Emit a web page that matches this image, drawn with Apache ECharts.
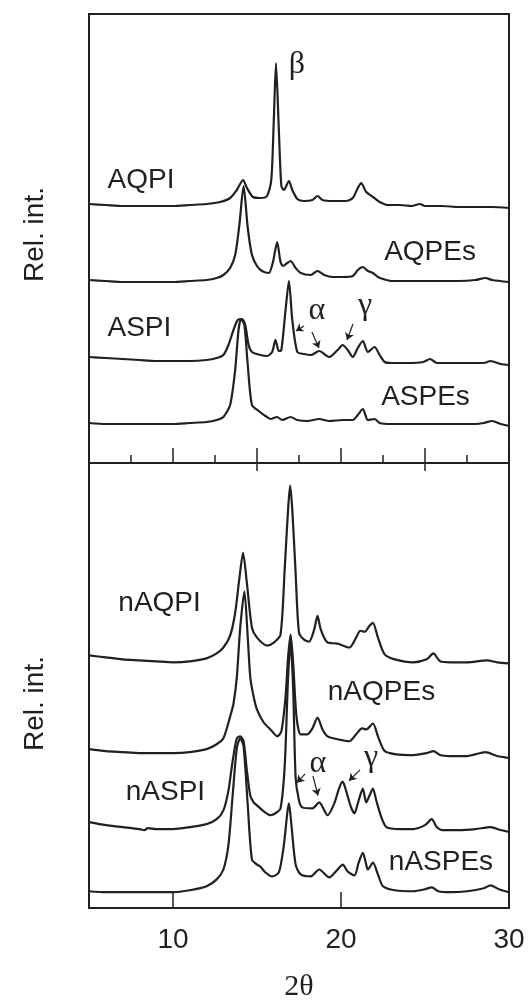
<!DOCTYPE html>
<html>
<head>
    <meta charset="utf-8">
    <title>XRD</title>
    <script src="https://cdn.jsdelivr.net/npm/echarts@6/dist/echarts.min.js"></script>
    <style>
        html, body { margin: 0; padding: 0; background: #fff; }
        #chart { width: 529px; height: 1003px; }
    </style>
</head>
<body>
<div id="chart"></div>
<script>
    // 2θ range and tick values
    var xMin = 5, xMax = 30;
    var bottomLabels = [10, 20, 30];
    var bottomMajor = [10, 20];
    var bottomMinor = [15, 25];

    // top panel curves: [2θ, intensity]
    var AQPI = [[5,259],[6,258],[7,257],[8,257],[9,257],[10,257],[11,258],[12,259],[12.8,261],[13.4,265],[13.8,273],[14.17,283],[14.4,275],[14.76,266],[15.2,265],[15.6,267],[15.85,283],[16.0,343],[16.13,400],[16.3,333],[16.45,277],[16.6,273],[16.9,282],[17.1,273],[17.4,264],[17.8,262],[18.3,263],[18.6,267],[18.9,263],[19.5,262],[20.3,262],[20.7,265],[21.0,275],[21.2,280],[21.5,271],[21.9,266],[22.3,261],[22.8,258],[23.5,258],[24.2,257],[24.7,259],[25,257],[26,257],[27,256],[28,256],[29,256],[30,255]];
    var AQPEs = [[5,183],[6,182],[7,181],[8,181],[9,181],[10,181],[11,182],[12,183],[12.6,185],[13.0,188],[13.4,195],[13.7,208],[13.95,238],[14.2,277],[14.45,235],[14.7,208],[15.0,197],[15.3,192],[15.7,190],[15.95,201],[16.2,221],[16.4,201],[16.55,197],[16.8,200],[17.0,202],[17.3,195],[17.6,190],[18.2,188],[18.6,192],[19.0,188],[19.5,186],[20.1,186],[20.7,187],[21.0,193],[21.3,196],[21.6,192],[21.9,190],[22.2,186],[22.5,184],[23,182],[24,182],[25,182],[26,182],[27,182],[28,183],[28.6,185],[29,183],[30,181]];
    var ASPI = [[5,106],[6,105],[7,104],[8,103],[9,102],[10,102],[11,102],[12,103],[12.6,105],[13.0,108],[13.3,118],[13.6,133],[13.85,143],[14.1,144],[14.3,138],[14.5,118],[14.7,111],[15.2,108],[15.6,107],[15.9,111],[16.1,123],[16.3,112],[16.45,113],[16.7,153],[16.9,182],[17.1,143],[17.4,111],[17.8,109],[18.2,108],[18.7,112],[19.3,106],[19.8,113],[20.1,118],[20.4,113],[20.7,106],[21.0,115],[21.3,122],[21.6,111],[22.0,116],[22.3,108],[22.6,101],[23,100],[24,100],[24.9,101],[25.3,104],[25.7,100],[26.5,100],[27.5,100],[28.5,100],[28.9,102],[29.5,99],[30,98]];
    var ASPEs = [[5,40],[6,39],[7,39],[8,39],[9,39],[10,39],[11,40],[12,41],[12.6,43],[13.0,46],[13.4,58],[13.7,93],[13.9,133],[14.05,144],[14.25,138],[14.45,98],[14.7,58],[15.1,52],[15.5,47],[15.8,44],[16.2,46],[16.5,43],[17.0,46],[17.4,43],[18,42],[18.7,44],[19.3,42],[20.1,43],[20.7,43],[21.0,48],[21.3,54],[21.6,43],[22.0,44],[22.3,40],[23,39],[24,39],[25,39],[26,39],[27,39],[28,39],[28.5,40],[29,42],[29.5,39],[30,37]];

    // bottom panel curves
    var nAQPI = [[5,256],[6,254],[7,252],[8,251],[9,250],[10,249],[11,250],[12,253],[12.6,258],[13.0,264],[13.4,276],[13.7,299],[13.95,334],[14.17,360],[14.4,329],[14.7,284],[15.0,274],[15.6,266],[16.0,269],[16.4,277],[16.65,344],[16.85,404],[16.97,428],[17.1,404],[17.3,339],[17.5,279],[17.8,272],[18.1,270],[18.4,282],[18.6,296],[18.8,282],[19.2,269],[19.8,268],[20.5,264],[20.9,274],[21.15,281],[21.4,280],[21.7,286],[21.9,289],[22.2,274],[22.6,257],[23.2,252],[24.3,249],[25.1,252],[25.5,258],[25.9,250],[26.5,249],[27.5,249],[28.7,251],[29.3,249],[30,248]];
    var nAQPEs = [[5,161],[6,159],[7,158],[8,157],[9,157],[10,157],[11,158],[12,161],[12.6,166],[13.0,172],[13.4,194],[13.6,207],[13.8,234],[14.0,284],[14.25,321],[14.45,274],[14.6,234],[14.8,214],[15.0,201],[15.4,188],[15.8,181],[16.2,174],[16.45,179],[16.7,214],[16.85,254],[17.0,277],[17.15,249],[17.35,194],[17.6,176],[18.0,176],[18.3,182],[18.6,193],[18.9,181],[19.2,174],[19.8,171],[20.5,169],[20.9,176],[21.25,182],[21.5,181],[21.9,187],[22.2,174],[22.6,159],[23.2,156],[24.3,155],[25.1,157],[25.5,159],[25.9,155],[26.5,154],[27.5,154],[28.6,158],[29.3,154],[30,152]];
    var nASPI = [[5,87],[6,84],[7,82],[8,80],[8.3,79],[8.5,81],[9,80],[10,80],[11,82],[12,85],[12.6,90],[13.0,99],[13.3,119],[13.55,149],[13.8,172],[14.0,174],[14.2,169],[14.4,139],[14.6,114],[14.8,107],[15.0,104],[15.4,98],[15.8,94],[16.1,96],[16.4,101],[16.65,144],[16.85,234],[17.0,269],[17.15,224],[17.3,132],[17.5,109],[17.7,102],[18.3,101],[18.7,107],[19.2,94],[19.6,106],[19.9,122],[20.1,128],[20.3,119],[20.6,102],[20.8,96],[21.0,106],[21.3,121],[21.5,107],[21.7,114],[21.9,121],[22.1,109],[22.4,92],[22.7,82],[23.5,80],[24.3,80],[25.0,84],[25.4,90],[25.7,82],[26,79],[27,79],[28,80],[28.9,82],[29.5,79],[30,77]];
    var nASPEs = [[5,17],[6,16],[7,16],[8,16],[9,16],[10,16],[11,18],[12,22],[12.6,29],[13.0,39],[13.3,64],[13.55,114],[13.8,162],[14.0,172],[14.2,164],[14.45,104],[14.7,49],[15.0,44],[15.2,42],[15.5,36],[15.9,32],[16.3,36],[16.6,64],[16.8,96],[16.9,106],[17.05,84],[17.3,44],[17.6,34],[18.2,32],[18.7,39],[19.3,31],[19.8,39],[20.1,44],[20.4,37],[20.8,33],[21.05,46],[21.3,56],[21.5,44],[21.6,39],[21.9,46],[22.2,34],[22.5,22],[23.2,18],[24.3,17],[25.0,19],[25.4,21],[25.8,17],[26.5,16],[27.5,17],[28.5,20],[28.9,23],[29.4,19],[30,16]];

    // curve names and where they are written [2θ, intensity]
    var topNames = ['AQPI', 'AQPEs', 'ASPI', 'ASPEs'];
    var topNamePos = [[8.1, 283], [25.3, 211], [8.0, 135], [25.03, 66]];
    var botNames = ['nAQPI', 'nAQPEs', 'nASPI', 'nASPEs'];
    var botNamePos = [[9.2, 309], [22.41, 219], [9.55, 117], [25.95, 46]];

    // phase marks
    var topGreek = [['β', 17.38, 398], ['α', 18.57, 152], ['γ', 21.43, 157]];
    var topArrows = [[[17.8, 137], [17.32, 132]], [[18.27, 131], [18.69, 115]], [[20.71, 139], [20.36, 123]]];
    var botGreek = [['α', 18.63, 146], ['γ', 21.79, 152]];
    var botArrows = [[[17.86, 136], [17.38, 127]], [[18.33, 134], [18.63, 114]], [[21.13, 140], [20.48, 129]]];

    var ink = '#231f20';
    var sans = 'Liberation Sans, Arial, sans-serif';
    var serif = 'Liberation Serif, Times New Roman, serif';

    function nameMarks(names, pos) {
        return names.map(function (n, i) {
            return {
                coord: pos[i], value: n, symbolSize: 0,
                label: { show: true, position: 'inside', formatter: n, color: ink, fontSize: 28, fontFamily: sans }
            };
        });
    }
    function greekMarks(list) {
        return list.map(function (g) {
            return {
                coord: [g[1], g[2]], symbolSize: 0,
                label: { show: true, position: 'inside', formatter: g[0], color: ink, fontSize: 32, fontFamily: serif }
            };
        });
    }
    function arrowLines(list) {
        return {
            silent: true, symbol: ['none', 'arrow'], symbolSize: 7,
            lineStyle: { color: ink, width: 1.2, type: 'solid' },
            label: { show: false },
            data: list.map(function (a) { return [{ coord: a[0] }, { coord: a[1] }]; })
        };
    }
    function curve(data, g) {
        return {
            type: 'line', data: data, xAxisIndex: g, yAxisIndex: g,
            showSymbol: false, smooth: 0.25, silent: true,
            lineStyle: { color: ink, width: 2.2 }
        };
    }

    var chart = echarts.init(document.getElementById('chart'));
    var series = [
        curve(AQPI, 0), curve(AQPEs, 0), curve(ASPI, 0), curve(ASPEs, 0),
        curve(nAQPI, 1), curve(nAQPEs, 1), curve(nASPI, 1), curve(nASPEs, 1)
    ];
    series[0].markPoint = { silent: true, data: nameMarks(topNames, topNamePos).concat(greekMarks(topGreek)) };
    series[0].markLine = arrowLines(topArrows);
    series[4].markPoint = { silent: true, data: nameMarks(botNames, botNamePos).concat(greekMarks(botGreek)) };
    series[4].markLine = arrowLines(botArrows);

    var option = {
        animation: false,
        backgroundColor: '#fff',
        grid: [
            { left: 89, right: 20, top: 14, height: 449, show: true, borderColor: ink, borderWidth: 2 },
            { left: 89, right: 20, top: 463, height: 451, show: true, borderColor: ink, borderWidth: 2 }
        ],
        xAxis: [
            {
                gridIndex: 0, type: 'value', min: xMin, max: xMax, interval: 5,
                axisLine: { show: true, lineStyle: { color: ink, width: 2 } },
                axisTick: { inside: true, length: 15, lineStyle: { color: ink, width: 1.5 } },
                minorTick: { show: true, splitNumber: 2, length: 8, lineStyle: { color: ink, width: 1.5 } },
                axisLabel: { show: false }, splitLine: { show: false }
            },
            {
                gridIndex: 1, type: 'value', min: xMin, max: xMax,
                axisLine: { show: true, lineStyle: { color: ink, width: 2 } },
                axisTick: { inside: true, length: 16, customValues: bottomMajor, lineStyle: { color: ink, width: 1.5 } },
                axisLabel: { customValues: bottomLabels, color: ink, fontSize: 28, fontFamily: sans, margin: 18 },
                splitLine: { show: false },
                name: '2θ', nameLocation: 'middle', nameGap: 64,
                nameTextStyle: { color: ink, fontSize: 30, fontFamily: serif }
            },
            {
                gridIndex: 1, type: 'value', min: xMin, max: xMax,
                axisLine: { show: false },
                axisTick: { inside: true, length: 8, customValues: bottomMinor, lineStyle: { color: ink, width: 1.5 } },
                axisLabel: { show: false }, splitLine: { show: false }
            }
        ],
        yAxis: [
            {
                gridIndex: 0, type: 'value', min: 0, max: 449,
                axisLine: { show: false }, axisTick: { show: false }, axisLabel: { show: false }, splitLine: { show: false },
                name: 'Rel. int.', nameLocation: 'middle', nameGap: 40,
                nameTextStyle: { color: ink, fontSize: 28, fontFamily: sans, padding: [0, 0, 0, 8] }
            },
            {
                gridIndex: 1, type: 'value', min: 0, max: 451,
                axisLine: { show: false }, axisTick: { show: false }, axisLabel: { show: false }, splitLine: { show: false },
                name: 'Rel. int.', nameLocation: 'middle', nameGap: 40,
                nameTextStyle: { color: ink, fontSize: 28, fontFamily: sans, padding: [0, 36, 0, 0] }
            }
        ],
        series: series
    };
    chart.setOption(option);
</script>
</body>
</html>
